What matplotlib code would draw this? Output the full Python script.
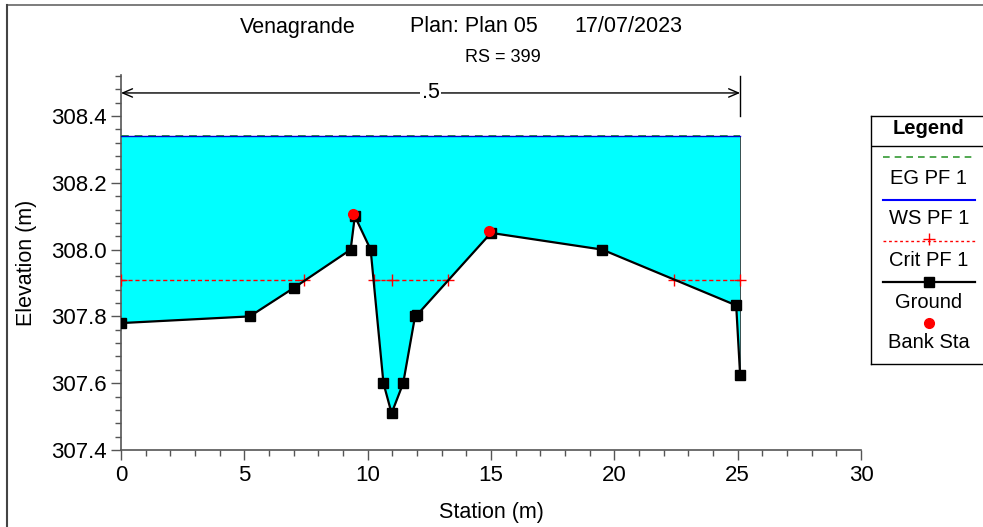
import numpy as np
import matplotlib
matplotlib.use('Agg')
import matplotlib.pyplot as plt
from matplotlib.lines import Line2D
from matplotlib.ticker import MultipleLocator, FormatStrFormatter

plt.rcParams['font.family'] = ['Liberation Sans', 'DejaVu Sans']

# ground profile (station, elevation)
ground_x = [0.0, 5.22, 7.02, 9.31, 9.48, 10.12, 10.64, 10.97, 11.44, 11.92, 12.01, 15.0, 19.51, 24.94, 25.10]
ground_y = [307.78, 307.80, 307.886, 308.00, 308.10, 308.00, 307.60, 307.51, 307.60, 307.80, 307.805,
            308.05, 308.00, 307.833, 307.624]

# bank stations
bank_x = [9.39, 14.93]
bank_y = [308.107, 308.055]

# water surface / energy grade
ws_elev = 308.34
eg_elev = 308.34

# critical depth segments (nan = break)
crit_x = [0.0, 7.42, np.nan, 10.26, 10.97, 13.27, np.nan, 22.42, 25.11]
crit_elev = 307.91

# Manning n label between banks
n_label = '.5'
n_span = [0.0, 25.1]

W, H = 983, 527
fig = plt.figure(figsize=(W / 100, H / 100), dpi=100)

# pixel helpers
def fx(p):
    return p / W

def fy(p):
    return 1 - p / H

ax = fig.add_axes([fx(121), fy(450), (861 - 121) / W, (450 - 75) / H])
ax.set_xlim(0, 30)
ax.set_ylim(307.4, 307.4 + 375 / 334)

ws_x = [ground_x[0], ground_x[-1]]
ax.fill_between(ground_x, ground_y, ws_elev, color='#00FFFF', lw=0, zorder=1)
ax.plot([ground_x[-1], ground_x[-1]], [ground_y[-1], ws_elev], color='#333333', lw=0.6, zorder=2)
ax.plot(ws_x, [eg_elev, eg_elev], color='#339933', lw=1.4, ls=(0, (4, 3)), zorder=3)
ax.plot(ws_x, [ws_elev, ws_elev], color='#0000CC', lw=1.0, zorder=4)
ax.plot(crit_x, [crit_elev] * len(crit_x), color='#FF0000', lw=1, ls=(0, (3, 2)),
        marker='+', ms=8, mew=1, zorder=5)
ax.plot(ground_x, ground_y, color='black', lw=1.6, marker='s', ms=7, zorder=6)
ax.plot(bank_x, bank_y, 'o', color='#FF0000', ms=7, zorder=7)

# n-value span arrow
y_arr = 308.469
ax.annotate('', xy=(n_span[0], y_arr), xytext=(n_span[1], y_arr),
            arrowprops=dict(arrowstyle='<->,head_length=0.7,head_width=0.3', color='black', lw=1,
                            shrinkA=0, shrinkB=0), annotation_clip=False)
ax.plot([n_span[1], n_span[1]], [308.40, 308.52], color='black', lw=1, clip_on=False)
ax.text(sum(n_span) / 2, y_arr, n_label, ha='center', va='center', fontsize=15.5,
        bbox=dict(facecolor='white', edgecolor='none', pad=1))

for s in ['top', 'right']:
    ax.spines[s].set_visible(False)
for s in ['left', 'bottom']:
    ax.spines[s].set_color('#555555')
    ax.spines[s].set_linewidth(1.2)

ax.xaxis.set_major_locator(MultipleLocator(5))
ax.xaxis.set_minor_locator(MultipleLocator(1))
ax.yaxis.set_major_locator(MultipleLocator(0.2))
ax.yaxis.set_minor_locator(MultipleLocator(0.04))
ax.yaxis.set_major_formatter(FormatStrFormatter('%.1f'))
ax.tick_params(which='major', length=7, width=1, color='#555555', labelsize=16, direction='out')
ax.tick_params(which='minor', length=4, width=1, color='#555555', direction='out')
ax.set_xlabel('Station (m)', fontsize=15.5, labelpad=12)
ax.set_ylabel('Elevation (m)', fontsize=15.5, labelpad=10)

# titles
fig.text(fx(298), fy(27), 'Venagrande', ha='center', va='center', fontsize=15.5)
fig.text(fx(474), fy(27), 'Plan: Plan 05', ha='center', va='center', fontsize=15.5)
fig.text(fx(628), fy(27), '17/07/2023', ha='center', va='center', fontsize=15.5)
fig.text(fx(503), fy(58), 'RS = 399', ha='center', va='center', fontsize=13)

# legend box
lg = fig.add_axes([fx(871), fy(364), (990 - 871) / W, (364 - 116) / H])
lg.set_xlim(871, 990)
lg.set_ylim(364, 116)
lg.set_xticks([])
lg.set_yticks([])
for s in lg.spines.values():
    s.set_color('black')
    s.set_linewidth(1)
lg.axhline(146, color='black', lw=1)
lg.text(929, 129, 'Legend', ha='center', va='center', fontsize=14.5, fontweight='bold')
lx = [883, 975]
lg.plot(lx, [157, 157], color='#339933', lw=1.2, ls=(0, (4, 3)))
lg.text(929, 178, 'EG PF 1', ha='center', va='center', fontsize=14.5)
lg.plot(lx, [200, 200], color='#0000FF', lw=1.5)
lg.text(929, 219, 'WS PF 1', ha='center', va='center', fontsize=14.5)
lg.plot(lx, [241, 241], color='#FF0000', lw=1, ls=(0, (2, 2)))
lg.plot([929], [239], marker='+', color='#FF0000', ms=8, mew=1)
lg.text(929, 261, 'Crit PF 1', ha='center', va='center', fontsize=14.5)
lg.plot(lx, [282, 282], color='black', lw=1.6)
lg.plot([929], [282], marker='s', color='black', ms=7)
lg.text(929, 302, 'Ground', ha='center', va='center', fontsize=14.5)
lg.plot([929], [323], marker='o', color='#FF0000', ms=7)
lg.text(929, 343, 'Bank Sta', ha='center', va='center', fontsize=14.5)

# outer frame lines
fig.add_artist(Line2D([fx(6.5), 1], [fy(5), fy(5)], color='#666666', lw=1.2))
fig.add_artist(Line2D([fx(6.5), fx(6.5)], [fy(5), 0], color='#444444', lw=1.5))

fig.savefig('out.png', dpi=100)
